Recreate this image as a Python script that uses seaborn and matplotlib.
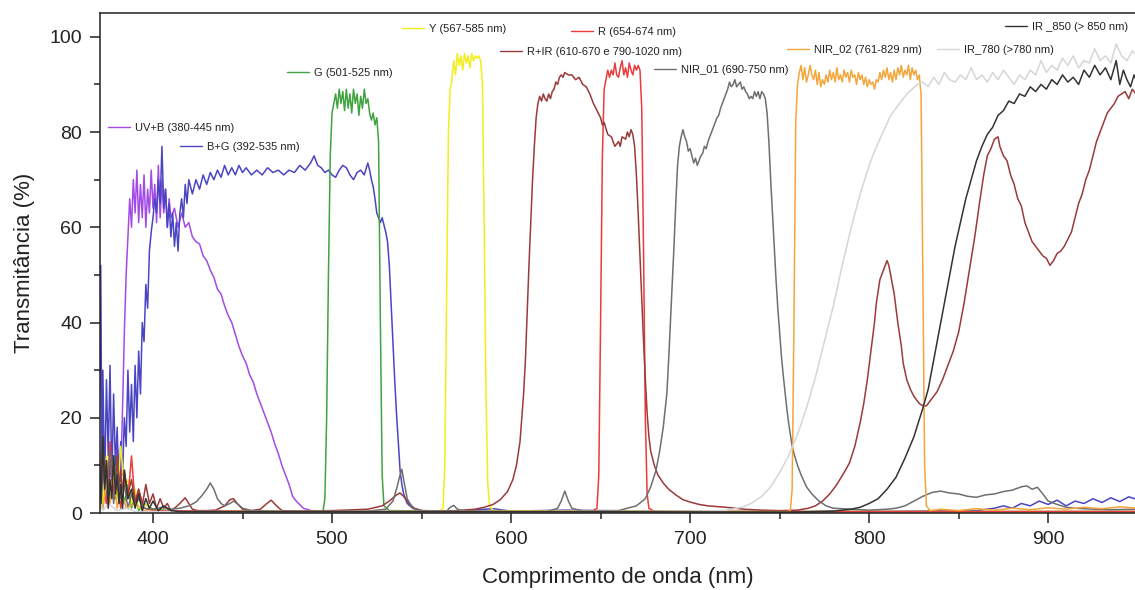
"""
Espectros de transmitancia dos filtros (UV+B ... IR_850).
"""

import matplotlib
matplotlib.use('Agg')
import matplotlib.pyplot as plt
import numpy as np
import pandas as pd
import seaborn as sns
from matplotlib.legend import Legend
from matplotlib.lines import Line2D
from matplotlib.ticker import MultipleLocator


# --- dados (nm, %) ---
UVB_WL = [370, 372, 374, 376, 378, 380, 382, 383, 384, 385, 386, 387, 388, 389, 390, 391, 392, 393,
          394, 395, 396, 397, 398, 399, 400, 401, 402, 403, 404, 405, 406, 407, 408, 409, 410, 412,
          414, 416, 418, 420, 422, 424, 426, 428, 430, 432, 434, 436, 438, 440, 442, 444, 446, 448,
          450, 452, 454, 456, 458, 460, 462, 464, 466, 468, 470, 472, 474, 476, 478, 480, 484, 490,
          500, 600, 700, 800, 900, 950]
UVB_T = [3, 12, 2, 9, 4, 14, 8, 22, 38, 50, 58, 66, 60, 70, 63, 72, 61, 69,
         62, 71, 60, 68, 63, 72, 64, 69, 61, 73, 62, 70, 63, 68, 60, 66, 62, 64,
         60, 63, 60, 61, 58, 57, 56.5, 54, 53, 51, 49.5, 47, 46, 43.5, 41.5, 40, 37.5, 35,
         33, 31.5, 29, 27.5, 25, 23, 21, 19, 17, 14.5, 12.5, 10, 8, 6, 3.5, 2.5, 1, 0.3,
         0.2, 0.2, 0.2, 0.2, 0.3, 0.3]

BG_WL = [370, 370.8, 371.5, 372, 373, 374, 375, 376, 377, 378, 379, 380, 381, 382, 383, 384, 385, 386, 387,
         388, 389, 390, 391, 392, 393, 394, 395, 396, 397, 398, 399, 400, 401, 402, 403, 404, 405,
         406, 407, 408, 409, 410, 411, 412, 413, 414, 415, 416, 417, 418, 419, 420, 422, 424, 426,
         428, 430, 432, 434, 436, 438, 440, 442, 444, 446, 448, 450, 452, 455, 458, 461, 464, 467,
         470, 473, 476, 479, 482, 485, 488, 490, 492, 494, 496, 498, 500, 502, 504, 506, 508, 510,
         512, 514, 516, 518, 520, 521, 522, 523, 524, 525, 526, 527, 528, 529, 530, 531, 532, 533,
         534, 535, 536, 537, 538, 539, 540, 542, 545, 550, 570, 590, 600, 630, 700, 800, 860, 870,
         875, 880, 885, 890, 895, 900, 905, 910, 915, 920, 925, 930, 935, 940, 945, 950]
BG_T = [20, 52, 8, 30, 5, 28, 12, 31, 6, 25, 10, 18, 4, 15, 8, 20, 14, 30, 17,
        27, 15, 31, 20, 34, 25, 40, 36, 48, 43, 55, 59, 62, 66, 63, 70, 65, 77,
        64, 68, 60, 65, 58, 63, 56, 61, 55, 63, 66, 62, 69, 65, 70, 67, 70, 68,
        71, 69, 71.5, 70, 72, 70.5, 73, 71, 72.5, 71, 73, 71.5, 72.5, 71, 72, 71, 72.5, 71.5,
        72, 71, 72, 71.5, 73, 72, 73.5, 75, 73, 72.5, 71.5, 72, 71, 70.5, 72, 73, 72.5, 71,
        70, 71.5, 72, 71, 73.5, 72, 70, 68.5, 66, 63, 62, 61, 62, 60.5, 59, 57, 52, 44,
        36, 28, 21, 15, 9, 6, 4, 2, 1, 0.5, 0.4, 0.9, 0.4, 0.6, 0.3, 0.3, 0.5, 1,
        1.5, 1, 2, 1.5, 2.5, 1.8, 2.7, 1.5, 2.5, 2, 3, 2.2, 3.2, 2.4, 3.4, 2.8]

G_WL = [370, 372, 374, 376, 378, 380, 382, 384, 386, 388, 390, 392, 395, 400, 410, 420, 490, 495,
        496, 497, 498, 499, 500, 501, 502, 503, 504, 505, 506, 507, 508, 509, 510, 511, 512, 513,
        514, 515, 516, 517, 518, 519, 520, 521, 522, 523, 524, 525, 526, 527, 528, 529, 532, 600,
        700, 800, 950]
G_T = [5, 1, 9, 3, 12, 4, 8, 2, 6, 1, 4, 0.5, 2, 0.8, 0.5, 0.3, 0.3, 0.5,
       3, 20, 50, 75, 84, 86, 88, 85, 89, 86, 88.5, 84.5, 89, 85, 88, 84, 89, 86,
       88, 83.5, 87.5, 85, 89, 86, 87, 84, 82.5, 84, 81.5, 83, 78, 40, 8, 1.5, 0.5, 0.3,
       0.3, 0.3, 0.3]

Y_WL = [370, 372, 374, 376, 378, 380, 382, 384, 386, 388, 390, 392, 395, 400, 500, 560, 562, 563,
        564, 565, 566, 567, 568, 569, 570, 571, 572, 573, 574, 575, 576, 577, 578, 579, 580, 581,
        582, 583, 584, 585, 586, 587, 588, 590, 700, 800, 950]
Y_T = [8, 2, 12, 4, 9, 3, 14, 5, 7, 2, 5, 1, 2, 0.5, 0.3, 0.3, 1, 10,
       45, 80, 89, 91, 95, 92, 96.5, 94, 96, 93, 96.5, 94.5, 96, 93.5, 96.5, 95, 96, 95.5,
       96, 95, 90, 60, 25, 6, 1.5, 0.5, 0.3, 0.3, 0.3]

R_WL = [370, 372, 374, 376, 378, 380, 382, 384, 386, 388, 390, 392, 395, 400, 500, 645, 648, 649,
        650, 651, 652, 653, 654, 655, 656, 657, 658, 659, 660, 661, 662, 663, 664, 665, 666, 667,
        668, 669, 670, 671, 672, 673, 674, 675, 676, 677, 680, 800, 950]
R_T = [3, 10, 2, 15, 4, 7, 1, 9, 3, 12, 2, 5, 1, 0.5, 0.3, 0.3, 1, 8,
       40, 75, 89, 91, 93, 91.5, 93, 92, 94.5, 92, 91.5, 93.5, 95, 92, 93.5, 91.5, 94.5, 93,
       92, 94, 93, 94, 93, 85, 55, 20, 4, 1, 0.3, 0.3, 0.3]

RIR_WL = [370, 371, 372, 373, 374, 375, 376, 377, 378, 379, 380, 381, 382, 383, 384, 386, 388, 390,
          392, 394, 396, 398, 400, 402, 404, 406, 408, 410, 412, 415, 418, 420, 422, 425, 430, 435,
          440, 443, 445, 447, 450, 455, 460, 463, 466, 469, 472, 480, 500, 520, 528, 532, 536, 538,
          540, 543, 546, 550, 560, 570, 580, 585, 590, 594, 598, 601, 603, 605, 607, 608, 609, 610,
          611, 612, 613, 614, 615, 616, 617, 618, 619, 620, 621, 622, 623, 624, 625, 626, 627, 628,
          629, 630, 632, 634, 636, 638, 640, 642, 644, 646, 648, 650, 651, 652, 654, 656, 658, 659,
          660, 661, 662, 664, 665, 666, 667, 668, 669, 670, 671, 672, 673, 674, 675, 676, 677, 678,
          680, 682, 685, 688, 692, 696, 700, 705, 710, 720, 730, 740, 750, 760, 766, 770, 774, 778,
          782, 786, 789, 792, 795, 797, 799, 801, 803, 804, 806, 808, 810, 811, 812, 814, 816, 818,
          819, 821, 823, 825, 828, 830, 832, 835, 838, 841, 844, 847, 850, 853, 856, 859, 862, 864,
          866, 868, 870, 872, 873, 875, 877, 879, 881, 883, 885, 887, 889, 891, 893, 895, 897, 899,
          901, 903, 905, 907, 909, 911, 913, 915, 917, 919, 921, 923, 925, 927, 929, 931, 933, 935,
          937, 939, 941, 943, 945, 947, 949]
RIR_T = [14, 3, 16, 6, 11, 2, 13, 7, 10, 3, 12, 5, 9, 2, 8, 4, 7, 2,
         5, 1.5, 6, 2, 4, 1, 3, 1, 2, 0.5, 1, 2, 3.2, 2, 0.8, 0.5, 0.5, 0.6,
         1.5, 2.8, 3, 2, 0.8, 0.5, 0.8, 1.8, 2.7, 1.5, 0.5, 0.4, 0.5, 0.8, 1.5, 2.5, 3.8, 4.2,
         3.5, 2, 1, 0.5, 0.4, 0.5, 0.8, 1.2, 1.8, 2.8, 4.5, 7, 10, 15, 25, 32, 42, 52,
         61, 70, 77, 83, 86, 87.5, 86.5, 88, 87, 86.5, 88, 87, 88.5, 89, 90.5, 90, 91.5, 92,
         91.5, 92.5, 92, 92, 91, 91.5, 90, 89.5, 88, 86, 84.5, 83, 81.5, 82, 79.5, 79, 77, 77.5,
         78, 77, 79, 78.5, 80, 79, 80.5, 79.5, 77, 71, 63, 54, 45, 36, 28, 21, 16, 13,
         10, 8, 6.3, 5, 3.8, 2.8, 2.3, 1.8, 1.5, 1.2, 0.8, 0.6, 0.5, 0.6, 1, 1.5, 2.5, 4,
         6, 8.5, 10.5, 14, 19, 23, 28, 34, 40, 44, 49, 51, 53, 52, 50, 46, 40, 35,
         31.5, 28, 26, 24.5, 23, 22.5, 22.5, 24, 25.5, 28, 31, 34, 38, 44, 51, 58, 66, 71,
         75, 76.5, 78.5, 79, 77, 75, 74, 71, 69, 66, 64.5, 61, 59, 57, 56, 55, 54, 53.5,
         52, 53, 54.5, 55, 56, 57.5, 59, 62, 65, 67, 70, 72, 75, 78, 80, 82, 84, 85,
         86, 87.5, 88, 88.5, 87, 89, 88]

NIR1_WL = [370, 371, 372, 374, 376, 378, 380, 382, 384, 386, 388, 390, 392, 395, 400, 405, 410, 415,
           420, 424, 427, 430, 432, 434, 436, 438, 440, 443, 445, 447, 450, 455, 470, 500, 520, 530,
           534, 536, 538, 539, 540, 542, 545, 550, 564, 566, 568, 570, 575, 620, 626, 628, 630, 632,
           634, 640, 660, 670, 675, 678, 681, 683, 685, 687, 688, 689, 690, 691, 692, 693, 694, 695,
           696, 697, 698, 699, 700, 701, 702, 703, 704, 705, 706, 707, 708, 709, 710, 711, 712, 713,
           714, 715, 716, 717, 718, 719, 720, 721, 722, 723, 724, 725, 726, 727, 728, 729, 730, 731,
           732, 733, 734, 735, 736, 737, 738, 739, 740, 741, 742, 743, 744, 745, 746, 747, 748, 749,
           750, 751, 752, 753, 754, 755, 756, 757, 758, 760, 762, 765, 768, 772, 776, 780, 790, 800,
           810, 815, 820, 825, 830, 835, 840, 845, 850, 855, 860, 865, 870, 875, 880, 885, 888, 891,
           894, 897, 900, 905, 910, 915, 925, 935, 950]
NIR1_T = [6, 1, 10, 4, 13, 2, 8, 3, 6, 1, 4, 1.5, 3, 1, 0.8, 1.2, 0.8, 1,
          1.5, 2.3, 3.5, 5, 6.3, 5, 3, 2, 1.5, 2, 2.5, 2, 1, 0.5, 0.3, 0.3, 0.4, 0.8,
          2.5, 5, 8, 9.2, 7, 3, 1, 0.4, 0.4, 1.2, 1.6, 0.8, 0.3, 0.3, 1, 2.5, 4.6, 2.5,
          1, 0.4, 0.5, 1.5, 3, 5.5, 9, 13, 18, 25, 32, 40, 48, 56, 65, 73, 77, 79,
          80.5, 79, 78, 76, 76.5, 75, 73.5, 74.5, 73, 74, 75, 75.5, 77, 76.5, 78, 79, 80, 81,
          82, 83, 83.5, 85, 86, 87, 88, 89, 90.5, 89.5, 90, 91, 89.5, 90, 90.5, 89, 89.5, 88.5,
          88, 87, 87.5, 87, 88.5, 87.5, 88.5, 87, 88.5, 88, 87, 84, 78, 70, 63, 56, 49, 43,
          38, 33, 29, 25.5, 22, 19, 16.5, 14, 12.5, 10, 8, 5.5, 4, 2.5, 1.5, 1, 0.8, 0.6,
          0.8, 1, 1.5, 2.5, 3.5, 4.3, 4.6, 4.2, 4, 3.5, 3.3, 3.8, 4, 4.5, 4.8, 5.5, 5.7, 5,
          5.4, 4, 2.5, 1.8, 1.2, 1, 0.8, 0.7, 0.8]

NIR2_WL = [370, 372, 374, 376, 378, 380, 382, 385, 390, 395, 400, 600, 754, 756, 757, 758, 759, 760,
           761, 762, 763, 764, 765, 766, 767, 768, 769, 770, 771, 772, 773, 774, 775, 776, 777, 778,
           779, 780, 781, 782, 783, 784, 785, 786, 787, 788, 789, 790, 791, 792, 793, 794, 795, 796,
           797, 798, 799, 800, 801, 802, 803, 804, 805, 806, 807, 808, 809, 810, 811, 812, 813, 814,
           815, 816, 817, 818, 819, 820, 821, 822, 823, 824, 825, 826, 827, 828, 829, 830, 831, 832,
           834, 840, 850, 860, 870, 880, 890, 900, 910, 920, 930, 940, 950]
NIR2_T = [4, 1, 6, 2, 8, 1, 5, 1, 2, 0.5, 0.3, 0.3, 0.3, 0.5, 5, 40, 82, 90,
          92.5, 94, 91, 93.5, 90.5, 92, 94, 92, 91, 93, 90, 92.5, 89.5, 91, 90, 92, 90.5, 93,
          91, 92.5, 90.5, 93.5, 91, 92, 90.5, 93, 91.5, 92.5, 90.5, 93, 91.5, 92, 90, 92.5, 91, 92,
          90, 91.5, 89.5, 91, 90, 90.5, 89, 91, 90.5, 92.5, 91, 93, 91.5, 93.5, 91, 92.5, 90.5, 93,
          91, 93.5, 92, 94, 91.5, 93, 92, 94, 91, 93.5, 92, 93, 91, 92, 88, 50, 10, 1.5,
          0.5, 0.8, 0.5, 0.9, 0.6, 1, 0.7, 1.1, 0.8, 1.2, 0.9, 1.3, 1]

IR780_WL = [370, 372, 375, 380, 385, 390, 500, 700, 710, 720, 725, 730, 735, 740, 745, 750, 755, 760,
            765, 770, 775, 780, 785, 790, 795, 800, 803, 806, 809, 812, 815, 818, 821, 824, 827, 830,
            833, 836, 839, 842, 845, 848, 851, 854, 857, 860, 863, 866, 869, 872, 875, 878, 881, 884,
            887, 890, 893, 896, 899, 902, 905, 908, 911, 914, 917, 920, 923, 926, 929, 932, 935, 938,
            941, 944, 947, 950]
IR780_T = [3, 0.5, 2, 0.5, 1, 0.3, 0.3, 0.3, 0.4, 0.6, 0.9, 1.3, 2.2, 3.5, 5.5, 8.5, 12, 16.5,
           22, 28.5, 36, 43.5, 52, 60, 67, 73, 76, 78.5, 81, 83.5, 85, 86.5, 88, 89, 90, 90.5,
           89.5, 91.5, 90, 92.5, 91, 90.5, 92, 91, 93.5, 91, 92, 90.5, 92.5, 91, 93, 91.5, 90, 92,
           91, 93, 92, 95, 92.5, 94, 93, 95.5, 94, 96, 93.5, 95, 94.5, 97.5, 95, 96, 94.5, 98.5,
           96, 95, 97, 96]

IR850_WL = [370, 371, 372, 373, 374, 375, 376, 377, 378, 379, 380, 381, 382, 383, 384, 386, 388, 390,
            392, 394, 396, 398, 400, 403, 406, 410, 415, 600, 760, 770, 780, 790, 795, 800, 805, 810,
            815, 820, 825, 830, 833, 836, 839, 842, 845, 848, 851, 854, 857, 860, 863, 866, 869, 872,
            875, 878, 881, 884, 887, 890, 893, 896, 899, 902, 905, 908, 911, 914, 917, 920, 923, 926,
            929, 932, 935, 938, 940, 942, 944, 946, 948, 950]
IR850_T = [10, 2, 16, 5, 11, 1, 7, 3, 12, 4, 8, 2, 6, 1, 9, 3, 5, 1,
           4, 0.5, 3, 1, 2.5, 0.5, 1.5, 0.5, 0.3, 0.3, 0.2, 0.3, 0.4, 0.8, 1.2, 2, 3, 5,
           7.5, 11.5, 16, 22, 26, 32, 38, 44, 50, 56, 61, 66, 70, 74, 77, 79.5, 81, 83.5,
           84.5, 86.5, 86, 88, 87.5, 89.5, 88.5, 90, 89, 91, 90, 92, 90.5, 91.5, 90, 93, 91.5, 94,
           92, 93.5, 91, 95, 90, 93, 91, 89.5, 92, 90]

FILTERS = ['UV+B (380-445 nm)', 'B+G (392-535 nm)', 'G (501-525 nm)', 'Y (567-585 nm)',
           'R (654-674 nm)', 'R+IR (610-670 e 790-1020 nm)', 'NIR_01 (690-750 nm)',
           'NIR_02 (761-829 nm)', 'IR_780 (>780 nm)', 'IR _850 (> 850 nm)']
SERIES = [(UVB_WL, UVB_T), (BG_WL, BG_T), (G_WL, G_T), (Y_WL, Y_T), (R_WL, R_T),
          (RIR_WL, RIR_T), (NIR1_WL, NIR1_T), (NIR2_WL, NIR2_T), (IR780_WL, IR780_T),
          (IR850_WL, IR850_T)]
COLORS = ['#a24be6', '#4a45c2', '#3fa33f', '#f2ee1c', '#eb3b3b', '#9a3a3a', '#6f6f6f',
          '#f3a63c', '#d6d6d6', '#333333']

# posicao das etiquetas (px na imagem original: inicio da linha, centro vertical)
TAG_POS = [(108, 128), (180, 147), (287, 73), (402, 29), (571, 32), (500, 52), (654, 70),
           (787, 50), (937, 50), (1005, 27)]


def main():
    frames = []
    for name, (wl, t) in zip(FILTERS, SERIES):
        frames.append(pd.DataFrame({'wl': wl, 't': t, 'filtro': name}))
    df = pd.concat(frames, ignore_index=True)

    sns.set_theme(style='ticks')
    plt.rcParams['font.family'] = ['Liberation Sans', 'DejaVu Sans']

    fig = plt.figure(figsize=(11.35, 5.9), dpi=100)
    ax = fig.add_axes([100 / 1135, 77 / 590, 1035 / 1135, 500 / 590])

    sns.lineplot(
        data=df, x='wl', y='t', hue='filtro', hue_order=FILTERS,
        palette=dict(zip(FILTERS, COLORS)), estimator=None, sort=False,
        linewidth=1.1, legend=False, ax=ax,
    )

    ax.set_xlim(370.4, 948.5)
    ax.set_ylim(0, 105)
    ax.xaxis.set_major_locator(MultipleLocator(100))
    ax.xaxis.set_minor_locator(MultipleLocator(50))
    ax.yaxis.set_major_locator(MultipleLocator(20))
    ax.yaxis.set_minor_locator(MultipleLocator(10))
    ax.tick_params(which='major', direction='out', length=7, width=1.1,
                   labelsize=14, color='#222222', labelcolor='#222222', pad=6)
    ax.tick_params(which='minor', direction='out', length=4, width=1.1, color='#222222')
    for side in ['left', 'bottom', 'top']:
        ax.spines[side].set_linewidth(1.1)
        ax.spines[side].set_color('#222222')
    ax.spines['right'].set_visible(False)

    ax.set_xlabel('Comprimento de onda (nm)', fontsize=16, color='#222222', labelpad=14)
    ax.set_ylabel('Transmitância (%)', fontsize=16, color='#222222', labelpad=10)

    # etiquetas junto das curvas
    for name, color, (px, py) in zip(FILTERS, COLORS, TAG_POS):
        leg = Legend(
            ax, [Line2D([], [], color=color, lw=1.0)], [name],
            loc='center left', bbox_to_anchor=((px - 100) / 1035, (513 - py) / 500),
            frameon=False, fontsize=8, handlelength=2.0, handletextpad=0.4,
            borderpad=0, borderaxespad=0,
        )
        for txt in leg.get_texts():
            txt.set_color('#222222')
        ax.add_artist(leg)

    fig.savefig('out.png', dpi=100)
    plt.close(fig)


if __name__ == "__main__":
    main()
